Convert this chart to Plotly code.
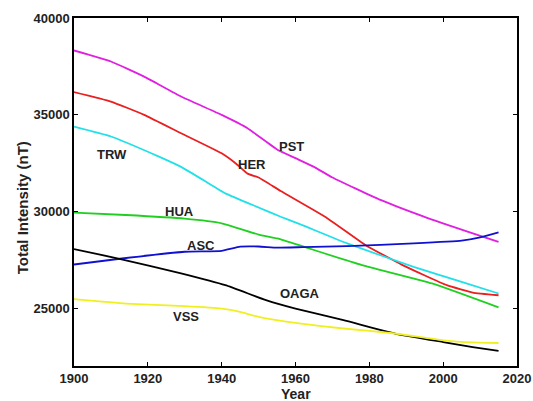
import plotly.graph_objects as go

# Year samples and series values (nT)
pst_years = [1900, 1910, 1919, 1929, 1940, 1947, 1955, 1960, 1965, 1970, 1983, 1996, 2015]
pst_vals = [38320, 37750, 36970, 35940, 34990, 34300, 33200, 32750, 32300, 31750, 30590, 29640, 28420]

her_years = [1900, 1910, 1919, 1929, 1940, 1944, 1947, 1950, 1956, 1968, 1979, 1989, 2001, 2008, 2015]
her_vals = [36170, 35680, 34990, 34040, 33000, 32450, 31950, 31750, 31050, 29720, 28250, 27220, 26180, 25800, 25660]

trw_years = [1900, 1910, 1923, 1929, 1935, 1941, 1950, 1956, 1961, 1974, 1992, 2005, 2015]
trw_vals = [34380, 33870, 32830, 32300, 31620, 30930, 30200, 29720, 29350, 28340, 27130, 26350, 25750]

hua_years = [1900, 1914, 1930, 1940, 1950, 1955, 1961, 1965, 1978, 1997, 2015]
hua_vals = [29930, 29810, 29620, 29380, 28800, 28600, 28250, 28000, 27220, 26270, 25030]

asc_years = [1900, 1913, 1930, 1940, 1945, 1950, 1955, 1962, 1974, 1992, 2005, 2010, 2015]
asc_vals = [27250, 27560, 27910, 27960, 28170, 28180, 28120, 28150, 28200, 28340, 28480, 28650, 28910]

oaga_years = [1900, 1912, 1929, 1941, 1952, 1960, 1973, 1987, 2000, 2008, 2015]
oaga_vals = [28050, 27560, 26790, 26180, 25410, 24970, 24370, 23680, 23240, 22980, 22780]

vss_years = [1900, 1914, 1930, 1940, 1945, 1950, 1961, 1973, 1987, 2000, 2008, 2015]
vss_vals = [25460, 25230, 25100, 24970, 24800, 24540, 24200, 23940, 23680, 23330, 23220, 23190]

series = [
    ("PST", pst_years, pst_vals, "#e020e0"),
    ("HER", her_years, her_vals, "#e82020"),
    ("TRW", trw_years, trw_vals, "#20e0e8"),
    ("HUA", hua_years, hua_vals, "#20d020"),
    ("ASC", asc_years, asc_vals, "#1010d0"),
    ("OAGA", oaga_years, oaga_vals, "#000000"),
    ("VSS", vss_years, vss_vals, "#f0f020"),
]

# Label names and their positions in data units
label_names = ["TRW", "PST", "HER", "HUA", "ASC", "OAGA", "VSS"]
label_x = [1910.3, 1959.0, 1948.2, 1928.5, 1934.4, 1961.2, 1930.4]
label_y = [32920, 33330, 32400, 29980, 28250, 25750, 24540]

x_ticks = [1900, 1920, 1940, 1960, 1980, 2000, 2020]
y_ticks = [25000, 30000, 35000, 40000]

FONT = "Liberation Sans, Arial"

fig = go.Figure()
for name, xs, ys, col in series:
    fig.add_trace(go.Scatter(x=xs, y=ys, mode="lines", name=name,
                             line=dict(color=col, width=1.8, shape="spline", smoothing=0.4)))

for n, lx, ly in zip(label_names, label_x, label_y):
    fig.add_annotation(x=lx, y=ly, text="<b>%s</b>" % n, showarrow=False,
                       font=dict(family=FONT, size=13, color="#222222"))

# axis titles placed as annotations to match the reference positions
fig.add_annotation(xref="paper", yref="paper", x=-0.117, y=0.454,
                   xanchor="center", yanchor="middle",
                   text="<b>Total Intensity (nT)</b>", textangle=-90, showarrow=False,
                   font=dict(family=FONT, size=15, color="#222222"))
fig.add_annotation(xref="paper", yref="paper", x=0.5, y=-0.08,
                   xanchor="center", yanchor="middle",
                   text="<b>Year</b>", showarrow=False,
                   font=dict(family=FONT, size=14, color="#222222"))

axis_common = dict(showgrid=False, zeroline=False, showline=True, linecolor="black",
                   linewidth=1.5, mirror="ticks", ticks="inside", ticklen=4,
                   tickcolor="black", tickwidth=1.2, tickformat="d", automargin=False,
                   tickfont=dict(family=FONT, size=13, color="#222222", weight="bold"))

fig.update_xaxes(range=[1900, 2020], tickvals=x_ticks, **axis_common)
fig.update_yaxes(range=[22000, 40000], tickvals=y_ticks, **axis_common)

fig.update_layout(width=533, height=401, showlegend=False,
                  plot_bgcolor="white", paper_bgcolor="white",
                  margin=dict(l=74, r=16, t=18, b=35),
                  font=dict(family=FONT))

fig.write_html("out.html", config={"displayModeBar": False},
               post_script="document.body.style.margin='0';document.body.style.overflow='hidden';")
